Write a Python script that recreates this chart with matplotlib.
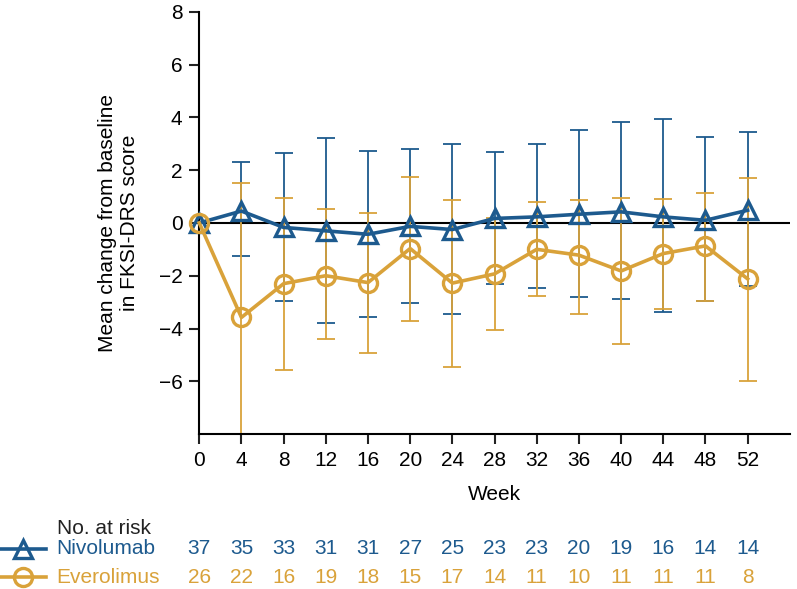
import matplotlib
matplotlib.use('Agg')
import matplotlib.pyplot as plt
import matplotlib.transforms as mtransforms
from matplotlib.lines import Line2D
import numpy as np

plt.rcParams['font.family'] = ['Liberation Sans', 'DejaVu Sans']

weeks = [0, 4, 8, 12, 16, 20, 24, 28, 32, 36, 40, 44, 48, 52]

nivo_mean = [0, 0.45, -0.17, -0.3, -0.43, -0.13, -0.25, 0.17, 0.23, 0.33, 0.42, 0.23, 0.1, 0.48]
nivo_low = [0, -1.25, -2.94, -3.78, -3.55, -3.02, -3.46, -2.32, -2.45, -2.8, -2.88, -3.38, -2.95, -2.4]
nivo_high = [0, 2.31, 2.65, 3.22, 2.72, 2.82, 3.0, 2.69, 3.0, 3.52, 3.83, 3.92, 3.25, 3.44]

ever_mean = [0, -3.58, -2.3, -2.0, -2.26, -0.97, -2.28, -1.93, -1.0, -1.22, -1.82, -1.16, -0.87, -2.12]
ever_low = [0, -8.7, -5.57, -4.38, -4.94, -3.71, -5.44, -4.05, -2.78, -3.45, -4.57, -3.26, -2.95, -5.97]
ever_high = [0, 1.52, 0.95, 0.51, 0.38, 1.74, 0.86, 0.2, 0.78, 0.87, 0.94, 0.91, 1.12, 1.7]

nivo_risk = [37, 35, 33, 31, 31, 27, 25, 23, 23, 20, 19, 16, 14, 14]
ever_risk = [26, 22, 16, 19, 18, 15, 17, 14, 11, 10, 11, 11, 11, 8]

blue = '#1d5a8e'
gold = '#d9a23a'
fs = 15

fig = plt.figure(figsize=(7.97, 5.89), dpi=100)
ax = fig.add_axes([0.25, 0.263, 0.741, 0.717])

def draw(mean, low, high, color, marker):
    mean = np.array(mean)
    yerr = [mean - np.array(low), np.array(high) - mean]
    ax.errorbar(weeks[1:], mean[1:], yerr=[yerr[0][1:], yerr[1][1:]], fmt='none',
                ecolor=color, elinewidth=1.3, capsize=6.5, capthick=1.3, zorder=2)
    ax.plot(weeks, mean, color=color, lw=2.6, marker=marker, ms=13,
            mfc='none', mec=color, mew=2.4, zorder=3, clip_on=False)

ax.axhline(0, color='black', lw=1.5, zorder=1)
draw(nivo_mean, nivo_low, nivo_high, blue, '^')
draw(ever_mean, ever_low, ever_high, gold, 'o')

ax.set_xlim(0, 56)
ax.set_ylim(-8, 8)
ax.set_xticks(weeks)
ax.set_yticks([-6, -4, -2, 0, 2, 4, 6, 8])
ax.tick_params(labelsize=fs, width=1.5, length=7, pad=5, color='#222222')
ax.spines['top'].set_visible(False)
ax.spines['right'].set_visible(False)
ax.spines['left'].set_linewidth(1.5)
ax.spines['bottom'].set_linewidth(1.5)
ax.set_xlabel('Week', fontsize=fs, labelpad=11)
ax.set_ylabel('Mean change from baseline\nin FKSI-DRS score', fontsize=fs, labelpad=14)

# number at risk table
trans = mtransforms.blended_transform_factory(ax.transData, fig.transFigure)
fig.text(0.071, 0.103, 'No. at risk', fontsize=fs, va='center', ha='left', color='#222222')
rows = [('Nivolumab', nivo_risk, blue, '^', 0.068),
        ('Everolimus', ever_risk, gold, 'o', 0.020)]
for name, risk, color, marker, y in rows:
    fig.add_artist(Line2D([0.0, 0.029, 0.058], [y, y, y], transform=fig.transFigure,
                          color=color, lw=2.6, marker=marker, ms=13, markevery=[1],
                          mfc='none', mec=color, mew=2.4))
    fig.text(0.071, y, name, fontsize=fs, va='center', ha='left', color=color)
    for w, n in zip(weeks, risk):
        ax.text(w, y, str(n), transform=trans, fontsize=fs, va='center', ha='center', color=color)

fig.savefig('out.png', dpi=100)
